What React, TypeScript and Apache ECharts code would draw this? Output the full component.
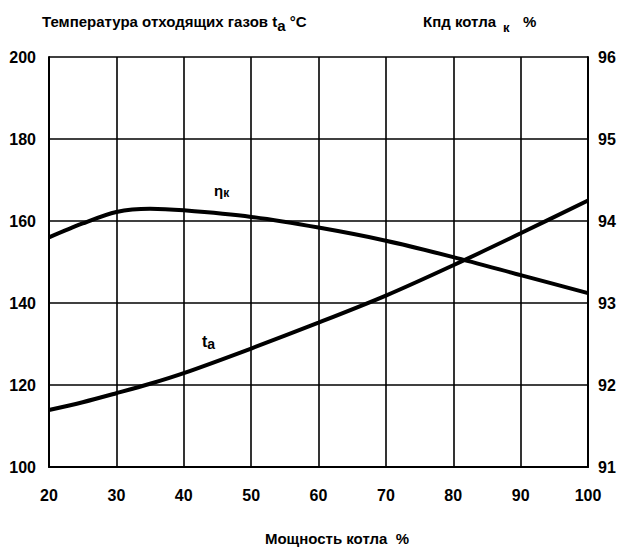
import React, { useEffect, useRef } from "react";
import * as echarts from "echarts";

const loadPct = [20, 25, 30, 35, 40, 50, 60, 70, 80, 90, 100];
const flueTemp = [113.9, 115.8, 118.0, 120.3, 122.9, 128.9, 135.2, 141.8, 149.2, 157.0, 165.0];
const efficiency = [93.8, 93.97, 94.11, 94.15, 94.13, 94.05, 93.92, 93.76, 93.56, 93.34, 93.12];

const FONT = "'Liberation Sans', Arial, sans-serif";

export default function App() {
  const ref = useRef<HTMLDivElement>(null);
  useEffect(() => {
    if (!ref.current) return;
    const chart = echarts.init(ref.current, undefined, { renderer: "svg" });
    const axisLine = { show: true, lineStyle: { color: "#000", width: 2 } };
    const tickLabel = { color: "#000", fontFamily: FONT, fontWeight: "bold", fontSize: 16 };
    chart.setOption({
      animation: false,
      backgroundColor: "#fff",
      grid: { left: 49, right: 37, top: 57, bottom: 80 },
      xAxis: {
        type: "value",
        min: 20,
        max: 100,
        interval: 10,
        axisLine,
        axisTick: { show: false },
        axisLabel: { ...tickLabel, margin: 20 },
        splitLine: { show: true, lineStyle: { color: "#000", width: 1.6 } },
      },
      yAxis: [
        {
          type: "value",
          min: 100,
          max: 200,
          interval: 20,
          axisLine,
          axisTick: { show: false },
          axisLabel: { ...tickLabel, margin: 13 },
          splitLine: { show: true, lineStyle: { color: "#000", width: 1.6 } },
        },
        {
          type: "value",
          min: 91,
          max: 96,
          interval: 1,
          position: "right",
          axisLine,
          axisTick: { show: false },
          axisLabel: { ...tickLabel, margin: 10 },
          splitLine: { show: false },
        },
      ],
      series: [
        {
          type: "line",
          yAxisIndex: 0,
          smooth: 0.3,
          symbol: "none",
          lineStyle: { color: "#000", width: 4 },
          data: loadPct.map((x, i) => [x, flueTemp[i]]),
        },
        {
          type: "line",
          yAxisIndex: 1,
          smooth: 0.3,
          symbol: "none",
          lineStyle: { color: "#000", width: 4 },
          data: loadPct.map((x, i) => [x, efficiency[i]]),
        },
      ],
      graphic: [
        {
          type: "text",
          left: 42,
          top: 14,
          style: {
            text: "Температура отходящих газов t{sub|a} °C",
            fontFamily: FONT,
            fontSize: 15,
            fontWeight: "bold",
            fill: "#000",
            rich: { sub: { fontSize: 15, fontWeight: "bold", fontFamily: FONT, fill: "#000", padding: [7, 0, 0, 0] } },
          },
        },
        {
          type: "text",
          left: 423,
          top: 14,
          style: { text: "Кпд котла", fontFamily: FONT, fontSize: 15, fontWeight: "bold", fill: "#000" },
        },
        {
          type: "text",
          left: 503,
          top: 21,
          style: { text: "к", fontFamily: FONT, fontSize: 13, fontWeight: "bold", fill: "#000" },
        },
        {
          type: "text",
          left: 523,
          top: 14,
          style: { text: "%", fontFamily: FONT, fontSize: 15, fontWeight: "bold", fill: "#000" },
        },
        {
          type: "text",
          left: 214,
          top: 183,
          style: {
            text: "η{sub|к}",
            fontFamily: FONT,
            fontSize: 15,
            fontWeight: "bold",
            fill: "#000",
            rich: { sub: { fontSize: 12, fontWeight: "bold", fontFamily: FONT, fill: "#000", padding: [4, 0, 0, 0] } },
          },
        },
        {
          type: "text",
          left: 202,
          top: 333,
          style: {
            text: "t{sub|a}",
            fontFamily: FONT,
            fontSize: 16,
            fontWeight: "bold",
            fill: "#000",
            rich: { sub: { fontSize: 14, fontWeight: "bold", fontFamily: FONT, fill: "#000", padding: [6, 0, 0, 0] } },
          },
        },
        {
          type: "text",
          x: 337,
          y: 538,
          style: {
            text: "Мощность котла  %",
            fontFamily: FONT,
            fontSize: 15,
            fontWeight: "bold",
            fill: "#000",
            align: "center",
            verticalAlign: "middle",
          },
        },
      ],
    });
    return () => chart.dispose();
  }, []);
  return <div ref={ref} style={{ width: 625, height: 547, position: "absolute", left: 0, top: 0 }} />;
}
